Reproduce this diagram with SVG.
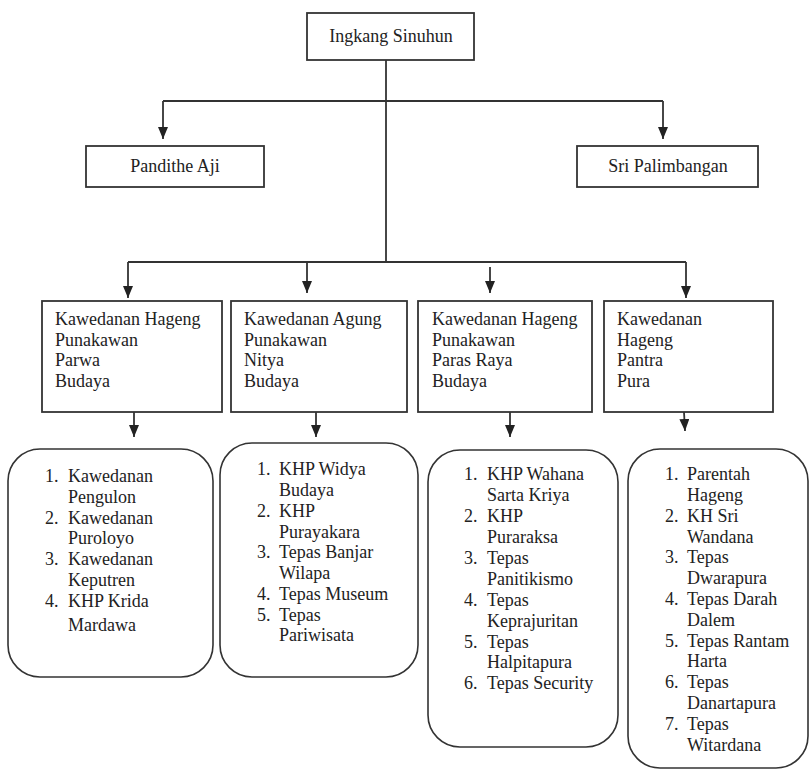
<svg xmlns="http://www.w3.org/2000/svg" width="811" height="771" viewBox="0 0 811 771">
<style>
.box{fill:#fff;stroke:#333;stroke-width:1.8}
.rbox{fill:#fff;stroke:#333;stroke-width:1.6}
.ln{fill:none;stroke:#333;stroke-width:1.8}
.ar{fill:none;stroke:#333;stroke-width:1.8;marker-end:url(#ah)}
text{font-family:"Liberation Serif","Times New Roman",serif;font-size:18px;fill:#222}
.c{text-anchor:middle}
</style>
<defs>
<marker id="ah" markerWidth="12" markerHeight="10" refX="12" refY="5" orient="auto" markerUnits="userSpaceOnUse" viewBox="0 0 12 10">
<path d="M0,0 L12,5 L0,10 Z" fill="#222"/>
</marker>
</defs>
<rect width="811" height="771" fill="#fff"/>
<g id="connectors">
<path class="ln" d="M386,60 V262"/>
<path class="ln" d="M163,101 H663"/>
<path class="ar" d="M163,101 V139"/>
<path class="ar" d="M663,101 V139"/>
<path class="ln" d="M128,262 H686"/>
<path class="ar" d="M128,262 V298"/>
<path class="ar" d="M307,262 V293"/>
<path class="ar" d="M490,267 V293"/>
<path class="ar" d="M686,262 V298"/>
<path class="ar" d="M134,412 V437"/>
<path class="ar" d="M316,412 V437"/>
<path class="ar" d="M510,412 V437"/>
<path class="ar" d="M684,412 L685,431"/>
</g>
<g id="ingkang-sinuhun">
<rect class="box" x="307" y="13" width="167" height="47"/>
<text class="c" x="391" y="42">Ingkang Sinuhun</text>
</g>
<g id="pandithe-aji">
<rect class="box" x="86" y="146" width="178" height="41"/>
<text class="c" x="175" y="172">Pandithe Aji</text>
</g>
<g id="sri-palimbangan">
<rect class="box" x="577" y="146" width="181" height="41"/>
<text class="c" x="668" y="172">Sri Palimbangan</text>
</g>
<g id="kh-parwa-budaya">
<rect class="box" x="42" y="301" width="180" height="111"/>
<text x="55" y="325">Kawedanan Hageng</text>
<text x="55" y="345.5">Punakawan</text>
<text x="55" y="366">Parwa</text>
<text x="55" y="387">Budaya</text>
</g>
<g id="ka-nitya-budaya">
<rect class="box" x="231" y="301" width="176" height="111"/>
<text x="244" y="325">Kawedanan Agung</text>
<text x="244" y="345.5">Punakawan</text>
<text x="244" y="366">Nitya</text>
<text x="244" y="387">Budaya</text>
</g>
<g id="kh-paras-raya-budaya">
<rect class="box" x="418" y="301" width="174" height="111"/>
<text x="432" y="325">Kawedanan Hageng</text>
<text x="432" y="345.5">Punakawan</text>
<text x="432" y="366">Paras Raya</text>
<text x="432" y="387">Budaya</text>
</g>
<g id="kh-pantra-pura">
<rect class="box" x="604" y="301" width="169" height="111"/>
<text x="617" y="325">Kawedanan</text>
<text x="617" y="345.5">Hageng</text>
<text x="617" y="366">Pantra</text>
<text x="617" y="387">Pura</text>
</g>
<g id="list-1">
<rect class="rbox" x="8" y="449" width="205" height="228" rx="32" ry="32"/>
<text x="45" y="482">1.</text><text x="68" y="482">Kawedanan</text>
<text x="68" y="503">Pengulon</text>
<text x="45" y="523.5">2.</text><text x="68" y="523.5">Kawedanan</text>
<text x="68" y="544">Puroloyo</text>
<text x="45" y="565">3.</text><text x="68" y="565">Kawedanan</text>
<text x="68" y="586">Keputren</text>
<text x="45" y="607">4.</text><text x="68" y="607">KHP Krida</text>
<text x="68" y="631">Mardawa</text>
</g>
<g id="list-2">
<rect class="rbox" x="220" y="443" width="198" height="234" rx="32" ry="32"/>
<text x="257" y="475">1.</text><text x="279" y="475">KHP Widya</text>
<text x="279" y="496">Budaya</text>
<text x="257" y="517">2.</text><text x="279" y="517">KHP</text>
<text x="279" y="538">Purayakara</text>
<text x="257" y="558">3.</text><text x="279" y="558">Tepas Banjar</text>
<text x="279" y="578.5">Wilapa</text>
<text x="257" y="600">4.</text><text x="279" y="600">Tepas Museum</text>
<text x="257" y="621">5.</text><text x="279" y="621">Tepas</text>
<text x="279" y="641">Pariwisata</text>
</g>
<g id="list-3">
<rect class="rbox" x="428" y="450" width="190" height="297" rx="32" ry="32"/>
<text x="464" y="480">1.</text><text x="487" y="480">KHP Wahana</text>
<text x="487" y="501">Sarta Kriya</text>
<text x="464" y="522">2.</text><text x="487" y="522">KHP</text>
<text x="487" y="543">Puraraksa</text>
<text x="464" y="564">3.</text><text x="487" y="564">Tepas</text>
<text x="487" y="585">Panitikismo</text>
<text x="464" y="606">4.</text><text x="487" y="606">Tepas</text>
<text x="487" y="627">Keprajuritan</text>
<text x="464" y="647.5">5.</text><text x="487" y="647.5">Tepas</text>
<text x="487" y="668">Halpitapura</text>
<text x="464" y="689">6.</text><text x="487" y="689">Tepas Security</text>
</g>
<g id="list-4">
<rect class="rbox" x="628" y="449" width="180" height="319" rx="32" ry="32"/>
<text x="665" y="480">1.</text><text x="687" y="480">Parentah</text>
<text x="687" y="501">Hageng</text>
<text x="665" y="522">2.</text><text x="687" y="522">KH Sri</text>
<text x="687" y="543">Wandana</text>
<text x="665" y="563">3.</text><text x="687" y="563">Tepas</text>
<text x="687" y="584">Dwarapura</text>
<text x="665" y="605">4.</text><text x="687" y="605">Tepas Darah</text>
<text x="687" y="626">Dalem</text>
<text x="665" y="647">5.</text><text x="687" y="647">Tepas Rantam</text>
<text x="687" y="667">Harta</text>
<text x="665" y="688">6.</text><text x="687" y="688">Tepas</text>
<text x="687" y="709">Danartapura</text>
<text x="665" y="730">7.</text><text x="687" y="730">Tepas</text>
<text x="687" y="751">Witardana</text>
</g>
</svg>
